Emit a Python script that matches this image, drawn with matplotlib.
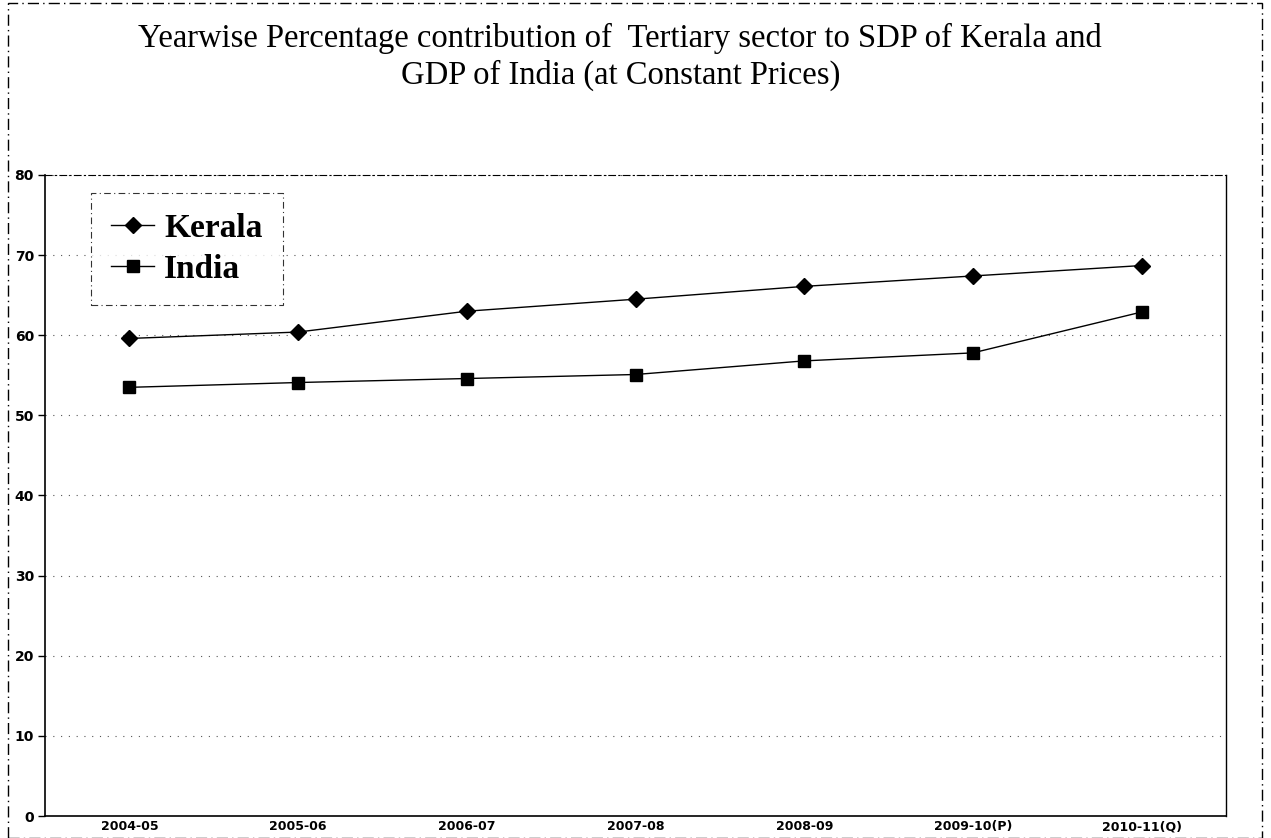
import matplotlib
matplotlib.use("Agg")
import matplotlib.pyplot as plt
from matplotlib.patches import Rectangle

years = ["2004-05", "2005-06", "2006-07", "2007-08", "2008-09", "2009-10(P)", "2010-11(Q)"]
kerala = [59.6, 60.4, 63.0, 64.5, 66.1, 67.4, 68.7]
india = [53.5, 54.1, 54.6, 55.1, 56.8, 57.8, 62.9]
yticks = [0, 10, 20, 30, 40, 50, 60, 70, 80]

fig = plt.figure(figsize=(12.71, 8.38), dpi=100, facecolor="white")
ax = fig.add_axes([45 / 1271, 1 - 816 / 838, (1226 - 45) / 1271, (816 - 175) / 838])

x = list(range(len(years)))
ax.plot(x, kerala, color="black", lw=1.0, marker="D", markersize=8.5, label="Kerala")
ax.plot(x, india, color="black", lw=1.0, marker="s", markersize=8.5, label="India")

ax.set_xlim(-0.5, len(years) - 0.5)
ax.set_ylim(0, 80)
ax.set_yticks(yticks)
ax.set_yticklabels([str(v) for v in yticks], fontsize=10, fontweight="bold")
ax.set_xticks(x)
ax.set_xticklabels(years, fontsize=9, fontweight="bold")
ax.tick_params(axis="x", length=0, pad=3)
ax.tick_params(axis="y", direction="out", length=5, width=1, pad=3)
ax.grid(axis="y", color="#555555", ls=(0, (1, 6)), lw=0.8)

for s in ["left", "bottom"]:
    ax.spines[s].set_linewidth(1.2)
ax.spines["top"].set_linestyle((0, (6, 3, 1, 3)))
ax.spines["top"].set_linewidth(0.8)
ax.spines["right"].set_linewidth(1.0)

leg = ax.legend(loc="upper left", bbox_to_anchor=(46 / 1181, 1 - 18 / 641),
                borderaxespad=0.0,
                prop={"family": "Liberation Serif", "weight": "bold", "size": 24},
                frameon=True, fancybox=False, borderpad=0.6, handlelength=1.3,
                labelspacing=0.3, handletextpad=0.3)
leg.get_frame().set_edgecolor("black")
leg.get_frame().set_linewidth(0.8)
leg.get_frame().set_linestyle((0, (6, 3, 1, 3)))

fig.text(0.488, 1 - 38 / 838,
         "Yearwise Percentage contribution of  Tertiary sector to SDP of Kerala and",
         ha="center", va="center", fontsize=23.5, family="Liberation Serif")
fig.text(0.488, 1 - 75 / 838, "GDP of India (at Constant Prices)",
         ha="center", va="center", fontsize=23.5, family="Liberation Serif")

# outer frame of the scanned chart
fig.patches.append(Rectangle((8 / 1271, 0.0), (1262 - 8) / 1271, 1 - 3 / 838,
                             transform=fig.transFigure, fill=False,
                             edgecolor="black", lw=1.0, ls=(0, (8, 3, 1, 3))))

fig.savefig("out.png", dpi=100, facecolor="white")
